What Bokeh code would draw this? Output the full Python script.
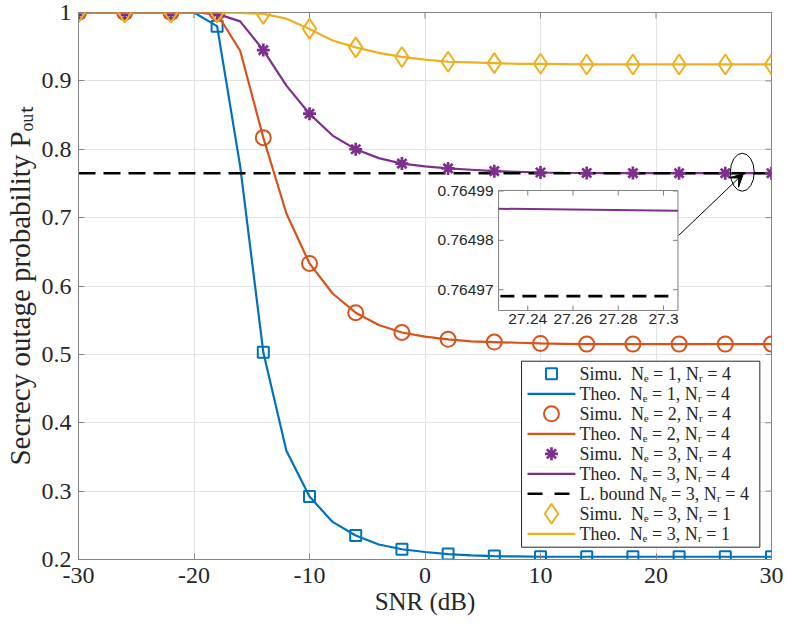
import math
from bokeh.plotting import figure
from bokeh.models import Range1d, FixedTicker, Arrow, VeeHead
from bokeh.embed import file_html
from bokeh.resources import INLINE
from bokeh.core.properties import value

# ---------------- data ----------------
snr_sim = [-30, -26, -22, -18, -14, -10, -6, -2, 2, 6, 10, 14, 18, 22, 26, 30]
snr_theo = [-30, -28, -26, -24, -22, -20, -18, -16, -14, -12, -10, -8, -6, -4, -2, 0,
            2, 4, 6, 8, 10, 12, 14, 16, 18, 20, 22, 24, 26, 28, 30]

sim_ne1_nr4 = [1, 1, 1, 0.980, 0.503, 0.292, 0.235, 0.215, 0.208, 0.205, 0.204,
               0.204, 0.204, 0.204, 0.204, 0.204]
theo_ne1_nr4 = [1, 1, 1, 1, 1, 1, 0.980, 0.775, 0.503, 0.359, 0.292, 0.255, 0.235,
                0.222, 0.215, 0.211, 0.208, 0.206, 0.205, 0.2045, 0.204, 0.204,
                0.204, 0.204, 0.204, 0.204, 0.204, 0.204, 0.204, 0.204, 0.204]

sim_ne2_nr4 = [1, 1, 1, 1, 0.817, 0.633, 0.561, 0.532, 0.522, 0.518, 0.516,
               0.515, 0.515, 0.515, 0.515, 0.515]
theo_ne2_nr4 = [1, 1, 1, 1, 1, 1, 0.998, 0.944, 0.817, 0.706, 0.633, 0.589, 0.561,
                0.543, 0.532, 0.526, 0.522, 0.519, 0.518, 0.517, 0.516, 0.5155,
                0.515, 0.515, 0.515, 0.515, 0.515, 0.515, 0.515, 0.515, 0.515]

sim_ne3_nr4 = [1, 1, 1, 1, 0.945, 0.852, 0.800, 0.779, 0.772, 0.768, 0.766,
               0.7653, 0.7651, 0.765, 0.765, 0.765]
theo_ne3_nr4 = [1, 1, 1, 1, 1, 1, 0.998, 0.987, 0.945, 0.893, 0.852, 0.820, 0.800,
                0.787, 0.779, 0.775, 0.772, 0.770, 0.768, 0.767, 0.766, 0.7655,
                0.7653, 0.7652, 0.7651, 0.76505, 0.765, 0.765, 0.765, 0.765, 0.765]

lower_bound_ne3_nr4 = 0.7649687

sim_ne3_nr1 = [1, 1, 1, 1, 0.998, 0.976, 0.949, 0.935, 0.928, 0.926, 0.925,
               0.924, 0.924, 0.924, 0.924, 0.924]
theo_ne3_nr1 = [1, 1, 1, 1, 1, 1, 1, 0.9995, 0.998, 0.991, 0.976, 0.959, 0.949,
                0.941, 0.935, 0.931, 0.928, 0.927, 0.926, 0.925, 0.925, 0.9245,
                0.924, 0.924, 0.924, 0.924, 0.924, 0.924, 0.924, 0.924, 0.924]

# zoomed inset data
inset_x = [27.2271, 27.3064]
inset_theo_ne3_nr4 = [0.7649864, 0.7649860]

x_ticks = [-30, -20, -10, 0, 10, 20, 30]
x_tick_labels = {-30: "-30", -20: "-20", -10: "-10", 0: "0", 10: "10", 20: "20", 30: "30"}
y_ticks = [0.2, 0.3, 0.4, 0.5, 0.6, 0.7, 0.8, 0.9, 1.0]
y_tick_labels = {0.2: "0.2", 0.3: "0.3", 0.4: "0.4", 0.5: "0.5", 0.6: "0.6",
                 0.7: "0.7", 0.8: "0.8", 0.9: "0.9", 1.0: "1"}

inset_x_ticks = [27.24, 27.26, 27.28, 27.3]
inset_x_labels = ["27.24", "27.26", "27.28", "27.3"]
inset_y_ticks = [0.76497, 0.76498, 0.76499]
inset_y_labels = ["0.76497", "0.76498", "0.76499"]

legend_labels = ["Simu. \u00a0N\u2091 = 1, N\u1d63 = 4", "Theo. \u00a0N\u2091 = 1, N\u1d63 = 4",
                 "Simu. \u00a0N\u2091 = 2, N\u1d63 = 4", "Theo. \u00a0N\u2091 = 2, N\u1d63 = 4",
                 "Simu. \u00a0N\u2091 = 3, N\u1d63 = 4", "Theo. \u00a0N\u2091 = 3, N\u1d63 = 4",
                 "L. bound N\u2091 = 3, N\u1d63 = 4",
                 "Simu. \u00a0N\u2091 = 3, N\u1d63 = 1", "Theo. \u00a0N\u2091 = 3, N\u1d63 = 1"]

# ---------------- style ----------------
BLUE = "#0072BD"
ORANGE = "#D95319"
PURPLE = "#7E2F8E"
YELLOW = "#EDB120"
TXT = "#262626"
AXL = "#858585"
SERIF = "Liberation Serif"
SANS = "Liberation Sans"
LW = 2.2

p = figure(width=785, height=628, output_backend="svg", toolbar_location=None,
           x_range=Range1d(-30, 30), y_range=Range1d(0.2, 1.0),
           min_border_left=77, min_border_right=14, min_border_top=12,
           min_border_bottom=69)
p.background_fill_color = "white"
p.border_fill_color = "white"
p.outline_line_color = AXL
p.outline_line_width = 1

p.xaxis.ticker = FixedTicker(ticks=x_ticks)
p.yaxis.ticker = FixedTicker(ticks=y_ticks)
p.xaxis.major_label_overrides = x_tick_labels
p.yaxis.major_label_overrides = y_tick_labels
for ax in (p.xaxis, p.yaxis):
    ax.axis_line_color = AXL
    ax.major_tick_line_color = AXL
    ax.major_tick_in = 6
    ax.major_tick_out = 0
    ax.minor_tick_line_color = None
    ax.major_label_text_font = SERIF
    ax.major_label_text_font_size = "24px"
    ax.major_label_text_color = TXT
    ax.axis_label_text_font = SERIF
    ax.axis_label_text_font_style = "normal"
    ax.axis_label_text_color = TXT
p.xaxis.axis_label = "SNR (dB)"
p.yaxis.axis_label = "Secrecy outage probability P\u2092\u1d64\u209c"
p.xaxis.axis_label_text_font_size = "25px"
p.yaxis.axis_label_text_font_size = "29px"
p.xaxis.major_label_standoff = 8
p.xaxis.axis_label_standoff = 2
p.yaxis.major_label_standoff = 7
p.yaxis.axis_label_standoff = 3

p.grid.grid_line_color = "#e3e3e3"
p.grid.grid_line_width = 1
p.xgrid.ticker = FixedTicker(ticks=x_ticks)
p.ygrid.ticker = FixedTicker(ticks=y_ticks)

# inward ticks on the right and top edges of the box (outer halves are clipped)
p.scatter([x_ticks[-1]] * len(y_ticks), y_ticks, marker="dash", size=12,
          line_color=AXL, line_width=1)
p.scatter(x_ticks, [y_ticks[-1]] * len(x_ticks), marker="dash", angle=math.pi / 2,
          size=12, line_color=AXL, line_width=1)

# theoretical lines and simulation markers
p.line(snr_theo, theo_ne1_nr4, line_color=BLUE, line_width=LW)
p.scatter(snr_sim, sim_ne1_nr4, marker="square", size=11, fill_color=None,
          line_color=BLUE, line_width=2)
p.line(snr_theo, theo_ne2_nr4, line_color=ORANGE, line_width=LW)
p.scatter(snr_sim, sim_ne2_nr4, marker="circle", size=15, fill_color=None,
          line_color=ORANGE, line_width=2)
p.line(snr_theo, theo_ne3_nr4, line_color=PURPLE, line_width=LW)
p.line([snr_theo[0], snr_theo[-1]], [lower_bound_ne3_nr4, lower_bound_ne3_nr4],
       line_color="black", line_width=2.6, line_dash="17 8")
p.scatter(snr_sim, sim_ne3_nr4, marker="asterisk", size=13,
          line_color=PURPLE, line_width=2.7)
p.line(snr_theo, theo_ne3_nr1, line_color=YELLOW, line_width=LW)
p.scatter(snr_sim, sim_ne3_nr1, marker="diamond", size=20, fill_color=None,
          line_color=YELLOW, line_width=2)

# ellipse + arrow pointing to the zoomed region
p.ellipse(x=27.47, y=0.7664, width=2.07, height=0.0556, fill_color=None,
          line_color="black", line_width=1)
p.add_layout(Arrow(end=VeeHead(size=13, fill_color="black", line_color="black"),
                   x_start=21.96, y_start=0.6739, x_end=27.57, y_end=0.7645,
                   line_color="black", line_width=1))

# ---------------- inset ----------------
ixs = Range1d(inset_x[0], inset_x[1])
iys = Range1d(0.7649658, 0.7649901)
sub = p.subplot(x_source=ixs, y_source=iys,
                x_target=Range1d(6.37, 21.90), y_target=Range1d(0.5642, 0.7397))
sub.quad(left=ixs.start, right=ixs.end, bottom=iys.start, top=iys.end,
         fill_color="white", line_color="#808080", line_width=1)
sub.line(inset_x, inset_theo_ne3_nr4, line_color=PURPLE, line_width=2)
sub.line([inset_x[0] + 0.0008, inset_x[1] - 0.004],
         [lower_bound_ne3_nr4, lower_bound_ne3_nr4],
         line_color="black", line_width=2.6, line_dash="14 8")
tx = (ixs.end - ixs.start) * 5 / 180
ty = (iys.end - iys.start) * 5 / 120
nx = len(inset_x_ticks)
ny = len(inset_y_ticks)
sub.segment(x0=inset_x_ticks, y0=[iys.start] * nx, x1=inset_x_ticks,
            y1=[iys.start + ty] * nx, line_color="#808080", line_width=1)
sub.segment(x0=inset_x_ticks, y0=[iys.end] * nx, x1=inset_x_ticks,
            y1=[iys.end - ty] * nx, line_color="#808080", line_width=1)
sub.segment(x0=[ixs.start] * ny, y0=inset_y_ticks, x1=[ixs.start + tx] * ny,
            y1=inset_y_ticks, line_color="#808080", line_width=1)
sub.segment(x0=[ixs.end] * ny, y0=inset_y_ticks, x1=[ixs.end - tx] * ny,
            y1=inset_y_ticks, line_color="#808080", line_width=1)
sub.text(x=inset_x_ticks, y=[iys.start] * nx, text=inset_x_labels,
         text_align="center", text_baseline="top", y_offset=4,
         text_font=value(SANS), text_font_size="15.5px", text_color=TXT)
sub.text(x=[ixs.start] * ny, y=inset_y_ticks, text=inset_y_labels,
         text_align="right", text_baseline="middle", x_offset=-5,
         text_font=value(SANS), text_font_size="15.5px", text_color=TXT)

# ---------------- legend (drawn in its own box coordinates) ----------------
LEG_W, LEG_H = 239, 186
leg = p.subplot(x_source=Range1d(0, LEG_W), y_source=Range1d(0, LEG_H),
                x_target=Range1d(8.36, 28.99), y_target=Range1d(0.218, 0.490))
leg.quad(left=0, right=LEG_W, bottom=0, top=LEG_H, fill_color="white",
         line_color=TXT, line_width=1)
row_y = [LEG_H - 12.6 - 20 * i for i in range(9)]
gx0, gx1, gxc, tx0 = 6, 54, 30, 58
leg.scatter([gxc], [row_y[0]], marker="square", size=11, fill_color=None,
            line_color=BLUE, line_width=2)
leg.scatter([gxc], [row_y[2]], marker="circle", size=15, fill_color=None,
            line_color=ORANGE, line_width=2)
leg.scatter([gxc], [row_y[4]], marker="asterisk", size=13, line_color=PURPLE,
            line_width=2.7)
leg.scatter([gxc], [row_y[7]], marker="diamond", size=20, fill_color=None,
            line_color=YELLOW, line_width=2)
leg.segment(x0=[gx0] * 3, y0=[row_y[1], row_y[3], row_y[5]], x1=[gx1] * 3,
            y1=[row_y[1], row_y[3], row_y[5]], line_color=[BLUE, ORANGE, PURPLE],
            line_width=LW)
leg.segment(x0=[gx0], y0=[row_y[8]], x1=[gx1], y1=[row_y[8]], line_color=YELLOW,
            line_width=LW)
leg.segment(x0=[gx0], y0=[row_y[6]], x1=[gx1], y1=[row_y[6]], line_color="black",
            line_width=2.6, line_dash="15 12")
leg.text(x=[tx0] * 9, y=row_y, text=legend_labels, text_align="left",
         text_baseline="middle", text_font=value(SERIF), text_font_size="18px",
         text_color=TXT)

open("out.html", "w").write(file_html(p, INLINE))
